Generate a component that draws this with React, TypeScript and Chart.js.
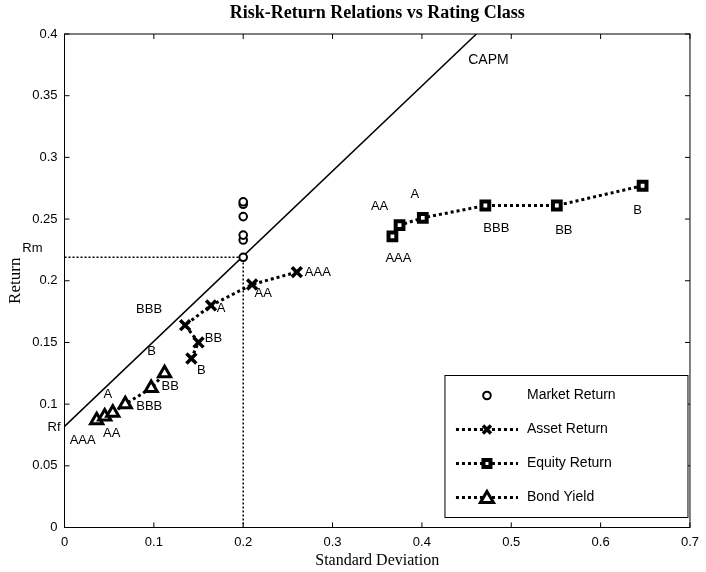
import React, { useEffect, useRef } from "react";
import { Chart, registerables } from "chart.js";

Chart.register(...registerables);

// ---------- data ----------
const ratings = ["AAA", "AA", "A", "BBB", "BB", "B"];

const marketSD = [0.2, 0.2, 0.2, 0.2, 0.2, 0.2];
const marketReturn = [0.219, 0.233, 0.237, 0.252, 0.262, 0.264];

const assetSD = [0.26, 0.21, 0.164, 0.135, 0.15, 0.142];
const assetReturn = [0.207, 0.197, 0.18, 0.164, 0.15, 0.137];

const equitySD = [0.367, 0.375, 0.401, 0.471, 0.551, 0.647];
const equityReturn = [0.236, 0.245, 0.251, 0.261, 0.261, 0.277];

const bondSD = [0.036, 0.045, 0.054, 0.068, 0.097, 0.112];
const bondYield = [0.087, 0.09, 0.093, 0.1, 0.113, 0.125];

const capmSD = [0, 0.461];
const capmReturn = [0.082, 0.4];

const rmSD = 0.2;
const rmReturn = 0.219;
const rfReturn = 0.082;

const xTicks = [0, 0.1, 0.2, 0.3, 0.4, 0.5, 0.6, 0.7];
const yTicks = [0, 0.05, 0.1, 0.15, 0.2, 0.25, 0.3, 0.35, 0.4];

const legendNames = ["Market Return", "Asset Return", "Equity Return", "Bond Yield"];

// ---------- label offsets (px) ----------
const assetLabelOffsets = [[21, 0], [11, 9], [10, 3], [-36, -16], [15, -4], [10, 12]];
const bondLabelOffsets = [[-14, 20], [7, 17], [-5, -18], [24, 2], [19, -2], [-13, -22]];
const equityLabelOffsets = [[6, 22], [-20, -19], [-8, -23], [11, 23], [7, 25], [-5, 25]];

const SANS = "'Liberation Sans', Arial, sans-serif";
const SERIF = "'Liberation Serif', 'Times New Roman', serif";

const pts = (xs: number[], ys: number[]) => xs.map((x, i) => ({ x, y: ys[i] }));
const fmt = (v: number) => String(+Number(v).toFixed(2));

function drawMarker(ctx: CanvasRenderingContext2D, kind: string, x: number, y: number) {
  ctx.save();
  ctx.strokeStyle = "#000";
  ctx.fillStyle = "#fff";
  ctx.setLineDash([]);
  if (kind === "circle") {
    ctx.lineWidth = 2;
    ctx.beginPath();
    ctx.arc(x, y, 3.8, 0, Math.PI * 2);
    ctx.fill();
    ctx.stroke();
  } else if (kind === "cross") {
    ctx.lineWidth = 3.5;
    ctx.beginPath();
    ctx.moveTo(x - 4, y - 4);
    ctx.lineTo(x + 4, y + 4);
    ctx.moveTo(x + 4, y - 4);
    ctx.lineTo(x - 4, y + 4);
    ctx.stroke();
  } else if (kind === "rect") {
    ctx.lineWidth = 4;
    ctx.beginPath();
    ctx.rect(x - 3.5, y - 3.5, 7, 7);
    ctx.fill();
    ctx.stroke();
  } else if (kind === "triangle") {
    ctx.lineWidth = 3;
    ctx.beginPath();
    ctx.moveTo(x, y - 6);
    ctx.lineTo(x + 6.5, y + 5);
    ctx.lineTo(x - 6.5, y + 5);
    ctx.closePath();
    ctx.fill();
    ctx.stroke();
  }
  ctx.restore();
}

const overlayPlugin = {
  id: "overlay",
  afterDraw(chart: any) {
    const { ctx, chartArea: a, scales } = chart;
    const xs = scales.x;
    const ys = scales.y;
    ctx.save();

    // frame
    ctx.strokeStyle = "#000";
    ctx.lineWidth = 1;
    ctx.setLineDash([]);
    ctx.strokeRect(a.left, a.top, a.right - a.left, a.bottom - a.top);

    // inward tick marks
    ctx.beginPath();
    xs.ticks.forEach((t: any) => {
      const px = xs.getPixelForValue(t.value);
      ctx.moveTo(px, a.bottom);
      ctx.lineTo(px, a.bottom - 5);
      ctx.moveTo(px, a.top);
      ctx.lineTo(px, a.top + 5);
    });
    ys.ticks.forEach((t: any) => {
      const py = ys.getPixelForValue(t.value);
      ctx.moveTo(a.left, py);
      ctx.lineTo(a.left + 5, py);
      ctx.moveTo(a.right, py);
      ctx.lineTo(a.right - 5, py);
    });
    ctx.stroke();

    // rating labels
    ctx.fillStyle = "#000";
    ctx.font = `13px ${SANS}`;
    ctx.textAlign = "center";
    ctx.textBaseline = "middle";
    const putLabels = (sx: number[], sy: number[], offs: number[][]) => {
      ratings.forEach((r, i) => {
        const px = xs.getPixelForValue(sx[i]);
        const py = ys.getPixelForValue(sy[i]);
        ctx.fillText(r, px + offs[i][0], py + offs[i][1]);
      });
    };
    putLabels(assetSD, assetReturn, assetLabelOffsets);
    putLabels(bondSD, bondYield, bondLabelOffsets);
    putLabels(equitySD, equityReturn, equityLabelOffsets);

    // CAPM / Rm / Rf
    ctx.font = `14px ${SANS}`;
    const capEndX = xs.getPixelForValue(capmSD[1]);
    const capEndY = ys.getPixelForValue(capmReturn[1]);
    ctx.fillText("CAPM", capEndX + 12, capEndY + 26);
    ctx.font = `13px ${SANS}`;
    ctx.textAlign = "right";
    ctx.fillText("Rm", a.left - 22, ys.getPixelForValue(rmReturn) - 9);
    ctx.fillText("Rf", a.left - 4, ys.getPixelForValue(rfReturn) + 1);

    // title
    ctx.textAlign = "center";
    ctx.font = `bold 18px ${SERIF}`;
    ctx.fillText("Risk-Return Relations vs Rating Class", (a.left + a.right) / 2, 13);

    // legend
    const bw = 243;
    const bh = 142;
    const bx = a.right - 2 - bw;
    const by = a.bottom - 10 - bh;
    ctx.fillStyle = "#fff";
    ctx.fillRect(bx, by, bw, bh);
    ctx.strokeStyle = "#000";
    ctx.lineWidth = 1;
    ctx.strokeRect(bx, by, bw, bh);
    const kinds = ["circle", "cross", "rect", "triangle"];
    legendNames.forEach((name, i) => {
      const ly = by + 20 + i * 34;
      const mx = bx + 42;
      if (i > 0) {
        ctx.save();
        ctx.strokeStyle = "#000";
        ctx.lineWidth = 3;
        ctx.setLineDash([3, 3]);
        ctx.beginPath();
        ctx.moveTo(bx + 11, ly);
        ctx.lineTo(bx + 73, ly);
        ctx.stroke();
        ctx.restore();
      }
      drawMarker(ctx, kinds[i], mx, ly);
      ctx.fillStyle = "#000";
      ctx.font = `14px ${SANS}`;
      ctx.textAlign = "left";
      ctx.textBaseline = "middle";
      ctx.fillText(name, bx + 82, ly);
    });

    ctx.restore();
  },
};

export default function App() {
  const ref = useRef<HTMLCanvasElement | null>(null);

  useEffect(() => {
    document.body.style.margin = "0";
    const canvas = ref.current;
    if (!canvas) return;

    const dotted = { borderColor: "#000", borderWidth: 3, borderDash: [3, 3], showLine: true };

    const chart = new Chart(canvas, {
      type: "scatter",
      data: {
        datasets: [
          {
            label: "Market Return",
            data: pts(marketSD, marketReturn),
            pointStyle: "circle",
            radius: 3.8,
            borderWidth: 2,
            borderColor: "#000",
            backgroundColor: "#fff",
            showLine: false,
          },
          {
            label: "Asset Return",
            data: pts(assetSD, assetReturn),
            ...dotted,
            pointStyle: "crossRot",
            radius: 7,
            pointBorderWidth: 3.5,
            pointBorderColor: "#000",
            backgroundColor: "#000",
          },
          {
            label: "Equity Return",
            data: pts(equitySD, equityReturn),
            ...dotted,
            pointStyle: "rect",
            radius: 5.5,
            pointBorderWidth: 4,
            pointBorderColor: "#000",
            pointBackgroundColor: "#fff",
          },
          {
            label: "Bond Yield",
            data: pts(bondSD, bondYield),
            ...dotted,
            pointStyle: "triangle",
            radius: 7,
            pointBorderWidth: 3,
            pointBorderColor: "#000",
            pointBackgroundColor: "#fff",
          },
          {
            label: "CAPM",
            data: pts(capmSD, capmReturn),
            showLine: true,
            borderColor: "#000",
            borderWidth: 1.5,
            radius: 0,
          },
          {
            label: "Rm guide",
            data: [
              { x: 0, y: rmReturn },
              { x: rmSD, y: rmReturn },
              { x: rmSD, y: 0 },
            ],
            showLine: true,
            borderColor: "#000",
            borderWidth: 1.5,
            borderDash: [2, 2],
            radius: 0,
          },
        ],
      } as any,
      options: {
        responsive: false,
        animation: false,
        layout: { padding: { top: 34, right: 9.5, left: 0, bottom: 0 } },
        plugins: {
          legend: { display: false },
          title: { display: false },
          tooltip: { enabled: false },
        },
        scales: {
          x: {
            type: "linear",
            min: 0,
            max: 0.7,
            grid: { display: false, drawTicks: false },
            border: { display: false },
            afterBuildTicks: (s: any) => {
              s.ticks = xTicks.map((v) => ({ value: v }));
            },
            afterFit: (s: any) => {
              s.height = 44.5;
            },
            ticks: {
              padding: 7,
              color: "#000",
              font: { family: SANS, size: 13 },
              maxRotation: 0,
              callback: (v: any) => fmt(v),
            },
            title: {
              display: true,
              text: "Standard Deviation",
              color: "#000",
              font: { family: SERIF, size: 16 },
              padding: { top: 0, bottom: 2 },
            },
          },
          y: {
            type: "linear",
            min: 0,
            max: 0.4,
            grid: { display: false, drawTicks: false },
            border: { display: false },
            afterBuildTicks: (s: any) => {
              s.ticks = yTicks.map((v) => ({ value: v }));
            },
            afterFit: (s: any) => {
              s.width = 64.5;
            },
            ticks: {
              padding: 7,
              color: "#000",
              font: { family: SANS, size: 13 },
              callback: (v: any) => fmt(v),
            },
            title: {
              display: true,
              text: "Return",
              color: "#000",
              font: { family: SERIF, size: 17 },
              padding: { top: 5, bottom: 0 },
            },
          },
        },
      } as any,
      plugins: [overlayPlugin],
    });

    return () => chart.destroy();
  }, []);

  return <canvas ref={ref} width={706} height={572} style={{ display: "block" }} />;
}
